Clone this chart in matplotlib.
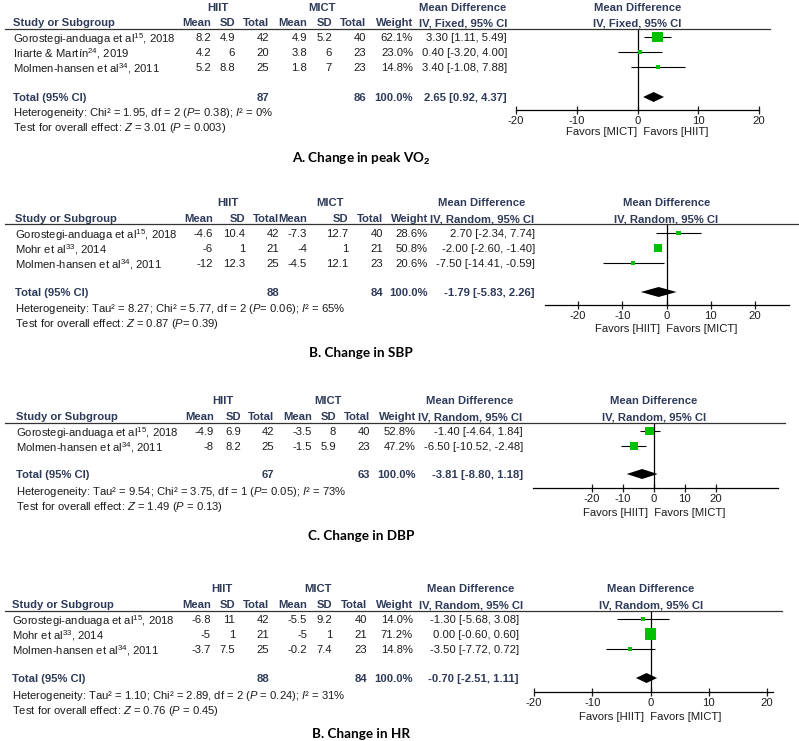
import numpy as np
import matplotlib.pyplot as plt
from matplotlib.lines import Line2D
from matplotlib.transforms import blended_transform_factory

W, H = 799, 741
HEAD = '#2E3A59'; INK = '#1C1C1C'; GREEN = '#00C000'
FS = 8.1
plt.rcParams['font.family'] = ['Liberation Sans', 'DejaVu Sans']
plt.rcParams['mathtext.fontset'] = 'custom'
plt.rcParams['mathtext.rm'] = 'Liberation Sans'
plt.rcParams['mathtext.it'] = 'Liberation Sans:italic'
plt.rcParams['mathtext.bf'] = 'Liberation Sans:bold'
plt.rcParams['axes.unicode_minus'] = False

# ── data: A. peak VO2 ──────────────────────────────────────────────────────
a_study = ['Gorostegi-anduaga et al', 'Iriarte & Martín', 'Molmen-hansen et al']
a_ref   = [15, 24, 34]
a_year  = [2018, 2019, 2011]
a_hiit_mean = [8.2, 4.2, 5.2];  a_hiit_sd = [4.9, 6, 8.8];   a_hiit_n = [42, 20, 25]
a_mict_mean = [4.9, 3.8, 1.8];  a_mict_sd = [5.2, 6, 7];     a_mict_n = [40, 23, 23]
a_weight = [62.1, 23.0, 14.8]
a_md = [3.30, 0.40, 3.40]; a_lo = [1.11, -3.20, -1.08]; a_hi = [5.49, 4.00, 7.88]
a_total = [87, 86, 2.65, 0.92, 4.37]
a_het  = 'Heterogeneity: Chi² = 1.95, df = 2 ($\\mathit{P}$= 0.38); $\\mathit{I}$² = 0%'
a_test = 'Test for overall effect: $\\mathit{Z}$ = 3.01 ($\\mathit{P}$ = 0.003)'

# ── data: B. SBP ───────────────────────────────────────────────────────────
b_study = ['Gorostegi-anduaga et al', 'Mohr et al', 'Molmen-hansen et al']
b_ref   = [15, 33, 34]
b_year  = [2018, 2014, 2011]
b_hiit_mean = [-4.6, -6, -12]; b_hiit_sd = [10.4, 1, 12.3]; b_hiit_n = [42, 21, 25]
b_mict_mean = [-7.3, -4, -4.5]; b_mict_sd = [12.7, 1, 12.1]; b_mict_n = [40, 21, 23]
b_weight = [28.6, 50.8, 20.6]
b_md = [2.70, -2.00, -7.50]; b_lo = [-2.34, -2.60, -14.41]; b_hi = [7.74, -1.40, -0.59]
b_total = [88, 84, -1.79, -5.83, 2.26]
b_het  = 'Heterogeneity: Tau² = 8.27; Chi² = 5.77, df = 2 ($\\mathit{P}$= 0.06); $\\mathit{I}$² = 65%'
b_test = 'Test for overall effect: $\\mathit{Z}$ = 0.87 ($\\mathit{P}$= 0.39)'

# ── data: C. DBP ───────────────────────────────────────────────────────────
c_study = ['Gorostegi-anduaga et al', 'Molmen-hansen et al']
c_ref   = [15, 34]
c_year  = [2018, 2011]
c_hiit_mean = [-4.9, -8];  c_hiit_sd = [6.9, 8.2]; c_hiit_n = [42, 25]
c_mict_mean = [-3.5, -1.5]; c_mict_sd = [8, 5.9];  c_mict_n = [40, 23]
c_weight = [52.8, 47.2]
c_md = [-1.40, -6.50]; c_lo = [-4.64, -10.52]; c_hi = [1.84, -2.48]
c_total = [67, 63, -3.81, -8.80, 1.18]
c_het  = 'Heterogeneity: Tau² = 9.54; Chi² = 3.75, df = 1 ($\\mathit{P}$= 0.05); $\\mathit{I}$² = 73%'
c_test = 'Test for overall effect: $\\mathit{Z}$ = 1.49 ($\\mathit{P}$ = 0.13)'

# ── data: HR ───────────────────────────────────────────────────────────────
d_study = ['Gorostegi-anduaga et al', 'Mohr et al', 'Molmen-hansen et al']
d_ref   = [15, 33, 34]
d_year  = [2018, 2014, 2011]
d_hiit_mean = [-6.8, -5, -3.7]; d_hiit_sd = [11, 1, 7.5];  d_hiit_n = [42, 21, 25]
d_mict_mean = [-5.5, -5, -0.2]; d_mict_sd = [9.2, 1, 7.4]; d_mict_n = [40, 21, 23]
d_weight = [14.0, 71.2, 14.8]
d_md = [-1.30, 0.00, -3.50]; d_lo = [-5.68, -0.60, -7.72]; d_hi = [3.08, 0.60, 0.72]
d_total = [88, 84, -0.70, -2.51, 1.11]
d_het  = 'Heterogeneity: Tau² = 1.10; Chi² = 2.89, df = 2 ($\\mathit{P}$ = 0.24); $\\mathit{I}$² = 31%'
d_test = 'Test for overall effect: $\\mathit{Z}$ = 0.76 ($\\mathit{P}$ = 0.45)'

titles  = ['A. Change in peak VO$_\\mathbf{2}$', 'B. Change in SBP', 'C. Change in DBP', 'B. Change in HR']
methods = ['IV, Fixed, 95% CI', 'IV, Random, 95% CI', 'IV, Random, 95% CI', 'IV, Random, 95% CI']
favors  = [('MICT', 'HIIT'), ('HIIT', 'MICT'), ('HIIT', 'MICT'), ('HIIT', 'MICT')]
ticks   = [-20, -10, 0, 10, 20]

panels = [
    (a_study, a_ref, a_year, a_hiit_mean, a_hiit_sd, a_hiit_n, a_mict_mean, a_mict_sd, a_mict_n,
     a_weight, a_md, a_lo, a_hi, a_total, a_het, a_test),
    (b_study, b_ref, b_year, b_hiit_mean, b_hiit_sd, b_hiit_n, b_mict_mean, b_mict_sd, b_mict_n,
     b_weight, b_md, b_lo, b_hi, b_total, b_het, b_test),
    (c_study, c_ref, c_year, c_hiit_mean, c_hiit_sd, c_hiit_n, c_mict_mean, c_mict_sd, c_mict_n,
     c_weight, c_md, c_lo, c_hi, c_total, c_het, c_test),
    (d_study, d_ref, d_year, d_hiit_mean, d_hiit_sd, d_hiit_n, d_mict_mean, d_mict_sd, d_mict_n,
     d_weight, d_md, d_lo, d_hi, d_total, d_het, d_test),
]

# ── layout in pixels (y from top) ───────────────────────────────────────────
LAYOUT = [
    dict(hiit=7, head=22, sep=29, row0=37, total=97, het=111, test=126, axis=110, fav=131, title=157,
         study=13, hm=211, hsd=235, hn=269, mm=307, msd=332, mn=366, w=413, md=507, mdh=463,
         hiit_c=218, mict_c=322, xl=516, xr=759, xlim=(-20, 20), sep_r=770),
    dict(hiit=202, head=218, sep=224, row0=233, total=292, het=307, test=322, axis=305, fav=328, title=352,
         study=15, hm=213, hsd=245, hn=279, mm=307, msd=348, mn=383, w=428, md=535, mdh=482,
         hiit_c=228, mict_c=330, xl=545, xr=789, xlim=(-27.5, 27.7), sep_r=799),
    dict(hiit=400, head=416, sep=423, row0=431, total=474, het=490, test=505, axis=488, fav=512, title=535,
         study=16, hm=214, hsd=241, hn=274, mm=312, msd=336, mn=370, w=416, md=523, mdh=470,
         hiit_c=223, mict_c=328, xl=533, xr=778, xlim=(-39, 40), sep_r=785),
    dict(hiit=588, head=604, sep=611, row0=619, total=678, het=694, test=709, axis=692, fav=716, title=733,
         study=12, hm=211, hsd=235, hn=269, mm=307, msd=332, mn=367, w=413, md=519, mdh=471,
         hiit_c=222, mict_c=318, xl=534, xr=773, xlim=(-20, 21), sep_r=782),
]

fig = plt.figure(figsize=(W / 100, H / 100), dpi=100)


def T(x, y, s, ha='left', bold=False, color=INK, fs=FS, **kw):
    fig.text(x / W, 1 - y / H, s, ha=ha, va='center_baseline', fontsize=fs,
             fontweight='bold' if bold else 'normal', color=color, **kw)


def num(v):
    return f'{v:g}'


for p, L, title, method, fav in zip(panels, LAYOUT, titles, methods, favors):
    (study, ref, year, hm, hsd, hn, mm, msd, mn, wt, md, lo, hi, tot, het, test) = p

    # column headers
    T(L['hiit_c'], L['hiit'], 'HIIT', ha='center', bold=True, color=HEAD)
    T(L['mict_c'], L['hiit'], 'MICT', ha='center', bold=True, color=HEAD)
    T(L['mdh'], L['hiit'], 'Mean Difference', ha='center', bold=True, color=HEAD)
    T(L['study'], L['head'], 'Study or Subgroup', bold=True, color=HEAD)
    for key, lab in [('hm', 'Mean'), ('hsd', 'SD'), ('hn', 'Total'), ('mm', 'Mean'),
                     ('msd', 'SD'), ('mn', 'Total'), ('w', 'Weight')]:
        T(L[key], L['head'], lab, ha='right', bold=True, color=HEAD)
    T(L['mdh'], L['head'], method, ha='center', bold=True, color=HEAD)
    fig.add_artist(Line2D([5 / W, L['sep_r'] / W], [1 - L['sep'] / H] * 2,
                          color='#333333', lw=0.9, transform=fig.transFigure))

    # study rows
    ys = [L['row0'] + 15 * i for i in range(len(study))]
    for i, y in enumerate(ys):
        T(L['study'], y, f'{study[i]}$^{{\\mathrm{{{ref[i]}}}}}$, {year[i]}')
        T(L['hm'], y, num(hm[i]), ha='right')
        T(L['hsd'], y, num(hsd[i]), ha='right')
        T(L['hn'], y, num(hn[i]), ha='right')
        T(L['mm'], y, num(mm[i]), ha='right')
        T(L['msd'], y, num(msd[i]), ha='right')
        T(L['mn'], y, num(mn[i]), ha='right')
        T(L['w'], y, f'{wt[i]:.1f}%', ha='right')
        T(L['md'], y, f'{md[i]:.2f} [{lo[i]:.2f}, {hi[i]:.2f}]', ha='right')

    # total rows
    T(L['study'], L['total'], 'Total (95% CI)', bold=True, color=HEAD)
    T(L['hn'], L['total'], str(tot[0]), ha='right', bold=True, color=HEAD)
    T(L['mn'], L['total'], str(tot[1]), ha='right', bold=True, color=HEAD)
    T(L['w'], L['total'], '100.0%', ha='right', bold=True, color=HEAD)
    T(L['md'], L['total'], f'{tot[2]:.2f} [{tot[3]:.2f}, {tot[4]:.2f}]', ha='right', bold=True, color=HEAD)
    T(L['study'], L['het'], het)
    T(L['study'], L['test'], test)

    # forest axes
    ax = fig.add_axes([L['xl'] / W, 1 - L['axis'] / H, (L['xr'] - L['xl']) / W, (L['axis'] - L['sep']) / H])
    ax.set_xlim(*L['xlim'])
    ax.set_ylim(L['axis'] - L['sep'], 0)
    ax.patch.set_alpha(0)
    for s in ['top', 'left', 'right']:
        ax.spines[s].set_visible(False)
    ax.spines['bottom'].set_linewidth(0.9)
    ax.set_yticks([])
    ax.set_xticks(ticks)
    ax.tick_params(axis='x', direction='inout', length=6, width=0.9, labelsize=FS, pad=1, colors=INK)
    ax.axvline(0, color='k', lw=0.9)

    yr = [y - L['sep'] for y in ys]
    ax.hlines(yr, lo, hi, color='k', lw=0.8)
    side = np.maximum(4.0, 0.165 * np.array(wt))
    ax.scatter(md, yr, marker='s', s=(side * 0.72) ** 2, color=GREEN, linewidths=0, zorder=3)
    yt = L['total'] - L['sep']
    ax.fill([tot[3], tot[2], tot[4], tot[2]], [yt, yt - 5, yt, yt + 5], color='k', lw=0)

    tr = blended_transform_factory(ax.transData, fig.transFigure)
    ax.text(0, 1 - L['hiit'] / H, 'Mean Difference', transform=tr, ha='center', va='center_baseline',
            fontsize=FS, fontweight='bold', color=HEAD)
    ax.text(0, 1 - L['head'] / H, method, transform=tr, ha='center', va='center_baseline',
            fontsize=FS, fontweight='bold', color=HEAD)
    ax.text(0, 1 - L['fav'] / H, f'Favors [{fav[0]}]  Favors [{fav[1]}]', transform=tr,
            ha='center', va='center_baseline', fontsize=FS, color=INK)

    # panel title
    fig.text(361 / W, 1 - L['title'] / H, title, ha='center', va='center_baseline',
             fontsize=9.7, fontweight='bold', family='Lato', color='black')

fig.savefig('out.png', dpi=100)
